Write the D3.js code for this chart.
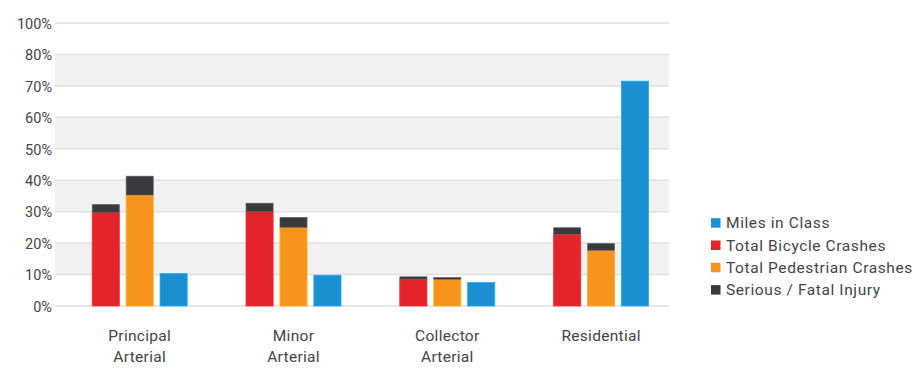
<!DOCTYPE html>
<html>
<head>
<meta charset="utf-8">
<script src="https://cdn.jsdelivr.net/npm/d3@7"></script>
<style>
  html, body { margin: 0; padding: 0; background: #fff; }
  svg { display: block; font-family: Roboto, "Noto Sans", sans-serif; }
</style>
</head>
<body>
<svg id="chart" width="923" height="384"></svg>
<script>
const categories = [["Principal", "Arterial"], ["Minor", "Arterial"], ["Collector", "Arterial"], ["Residential"]];
const categoryKeys = ["Principal Arterial", "Minor Arterial", "Collector Arterial", "Residential"];
const bicycleCrashes = [29.7, 30.0, 8.5, 22.8];
const bicycleSerious = [2.6, 2.7, 0.8, 2.1];
const pedestrianCrashes = [35.3, 25.0, 8.5, 17.7];
const pedestrianSerious = [6.0, 3.2, 0.6, 2.2];
const milesInClass = [10.3, 9.8, 7.5, 71.5];
const tickValues = [0, 10, 20, 30, 40, 50, 60, 70, 80, 90];
const tickLabels = ["0%", "10%", "20%", "30%", "40%", "50%", "60%", "70%", "80%", "100%"];
const legendItems = ["Miles in Class", "Total Bicycle Crashes", "Total Pedestrian Crashes", "Serious / Fatal Injury"];

const colors = { miles: "#1b8fd0", bike: "#e3242b", ped: "#f7941d", serious: "#3a3a3c" };
const legendColors = [colors.miles, colors.bike, colors.ped, colors.serious];

const svg = d3.select("#chart");
const gridLeft = 55, gridRight = 669;

const y = d3.scaleLinear().domain([0, 90]).range([306, 23]);
const x = d3.scaleBand().domain(categoryKeys).range([62.8, 678]).padding(0);
const sub = d3.scaleBand().domain(["bike", "ped", "miles"]).range([-47.5, 47.5]).paddingInner(0.2);

// alternating bands
const bandPairs = [[10, 20], [30, 40], [50, 60], [70, 80]];
svg.append("g").selectAll("rect").data(bandPairs).join("rect")
  .attr("x", gridLeft).attr("width", gridRight - gridLeft)
  .attr("y", d => y(d[1])).attr("height", d => y(d[0]) - y(d[1]))
  .attr("fill", "#f2f2f2");

// grid lines
svg.append("g").selectAll("line").data(tickValues).join("line")
  .attr("x1", gridLeft).attr("x2", gridRight)
  .attr("y1", d => y(d)).attr("y2", d => y(d))
  .attr("stroke", "#e0e0e0").attr("stroke-width", 1.5);

// y axis labels
const yAxis = d3.axisLeft(y).tickValues(tickValues).tickSize(0).tickPadding(0)
  .tickFormat((d, i) => tickLabels[i]);
const yg = svg.append("g").attr("transform", `translate(52,0)`).call(yAxis);
yg.select(".domain").remove();
yg.selectAll("text").attr("font-size", 14.5).attr("fill", "#444")
  .attr("font-family", "Roboto, sans-serif").attr("dy", "0.36em");

// bars
const barGroups = svg.append("g").selectAll("g").data(categoryKeys).join("g")
  .attr("transform", d => `translate(${x(d) + x.bandwidth() / 2},0)`);

function stackRects(key, base, top, topColor, baseColor) {
  barGroups.append("rect")
    .attr("x", sub(key)).attr("width", sub.bandwidth())
    .attr("y", (d, i) => y(base[i])).attr("height", (d, i) => y(0) - y(base[i]))
    .attr("fill", baseColor).attr("stroke", d3.color(baseColor).brighter(0.5)).attr("stroke-width", 0.8);
  if (top) {
    barGroups.append("rect")
      .attr("x", sub(key)).attr("width", sub.bandwidth())
      .attr("y", (d, i) => y(base[i] + top[i])).attr("height", (d, i) => y(base[i]) - y(base[i] + top[i]))
      .attr("fill", topColor).attr("stroke", "#666").attr("stroke-width", 0.6);
  }
}
stackRects("bike", bicycleCrashes, bicycleSerious, colors.serious, colors.bike);
stackRects("ped", pedestrianCrashes, pedestrianSerious, colors.serious, colors.ped);
stackRects("miles", milesInClass, null, null, colors.miles);

// category labels
const catG = svg.append("g").selectAll("text").data(categoryKeys).join("text")
  .attr("x", d => x(d) + x.bandwidth() / 2)
  .attr("y", 341)
  .attr("text-anchor", "middle")
  .attr("font-size", 15.5).attr("fill", "#444").attr("letter-spacing", 0.3);
catG.each(function(d, i) {
  const t = d3.select(this);
  categories[i].forEach((line, j) => {
    t.append("tspan").attr("x", x(d) + x.bandwidth() / 2).attr("dy", j === 0 ? 0 : 21).text(line);
  });
});

// legend
const lg = svg.append("g").selectAll("g").data(legendItems).join("g")
  .attr("transform", (d, i) => `translate(711,${222.7 + i * 22.3})`);
lg.append("rect").attr("x", 0).attr("y", -4.5).attr("width", 9.5).attr("height", 9.5)
  .attr("fill", (d, i) => legendColors[i]);
lg.append("text").attr("x", 15).attr("dy", "0.36em")
  .attr("font-size", 15.5).attr("fill", "#444").attr("letter-spacing", 0.6)
  .text(d => d);
</script>
</body>
</html>
